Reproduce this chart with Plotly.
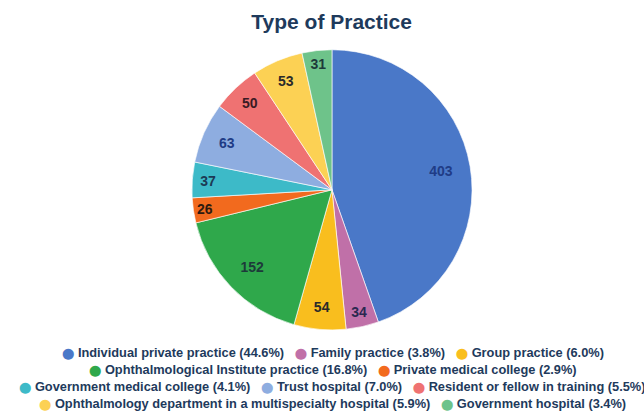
import plotly.graph_objects as go

# Respondents by type of practice
categories = [
    "Individual private practice",
    "Family practice",
    "Group practice",
    "Ophthalmological Institute practice",
    "Private medical college",
    "Government medical college",
    "Trust hospital",
    "Resident or fellow in training",
    "Ophthalmology department in a multispecialty hospital",
    "Government hospital",
]
counts = [403, 34, 54, 152, 26, 37, 63, 50, 53, 31]
colors = [
    "#4A78C8", "#C070A8", "#F9BE1E", "#2FA84B", "#F26A1E",
    "#3DBAC8", "#8EADE0", "#EF7272", "#FCD154", "#6EC38A",
]
label_colors = [
    "#203C86", "#2A2850", "#2A2A2A", "#1D3A3A", "#2E1A10",
    "#1C3A55", "#203C86", "#3A1A24", "#2A2A2A", "#1D3A3A",
]
# legend rows (indices into the category list)
legend_rows = [[0, 1, 2], [3, 4], [5, 6, 7], [8, 9]]

total = sum(counts)
pct = [100 * c / total for c in counts]

FONT = "Liberation Sans, Arial, sans-serif"
NAVY = "#1E3A5C"

dom_x = [0.298, 0.733]
dom_y = [0.203, 0.880]

fig = go.Figure()

# Filled pie slices
fig.add_trace(go.Pie(
    labels=categories,
    values=counts,
    sort=False,
    direction="clockwise",
    rotation=0,
    marker=dict(colors=colors, line=dict(color="rgba(255,255,255,0.8)", width=0.8)),
    textinfo="none",
    hoverinfo="label+value+percent",
    domain=dict(x=dom_x, y=dom_y),
    showlegend=False,
))

# Transparent ring carrying the count labels near the rim
fig.add_trace(go.Pie(
    labels=categories,
    values=counts,
    sort=False,
    direction="clockwise",
    rotation=0,
    hole=0.58,
    marker=dict(colors=["rgba(0,0,0,0)"] * len(counts), line=dict(width=0)),
    text=[f"<b>{c}</b>" for c in counts],
    textinfo="text",
    textposition="inside",
    insidetextorientation="horizontal",
    insidetextfont=dict(family=FONT, size=14, color=label_colors),
    hoverinfo="skip",
    domain=dict(x=dom_x, y=dom_y),
    showlegend=False,
))

# Centered, wrapped legend rows
row_y = [352, 369, 386, 403]
annotations = []
for row, y in zip(legend_rows, row_y):
    parts = []
    for i in row:
        parts.append(
            f"<span style='color:{colors[i]};font-family:DejaVu Sans;font-size:11px'>⬤</span> "
            f"<b>{categories[i]} ({pct[i]:.1f}%)</b>"
        )
    annotations.append(dict(
        text="&nbsp;&nbsp;&nbsp;".join(parts),
        x=0.517, xref="paper", xanchor="center",
        y=1 - y / 414, yref="paper", yanchor="middle",
        showarrow=False,
        font=dict(family=FONT, size=12.8, color=NAVY),
    ))

fig.update_layout(
    width=644, height=414,
    margin=dict(l=0, r=0, t=0, b=0),
    paper_bgcolor="white",
    plot_bgcolor="white",
    title=dict(
        text="<b>Type of Practice</b>",
        x=0.515, xanchor="center",
        y=1 - 22 / 414, yanchor="middle",
        font=dict(family=FONT, size=21, color=NAVY),
    ),
    annotations=annotations,
)

fig.write_html("out.html")
